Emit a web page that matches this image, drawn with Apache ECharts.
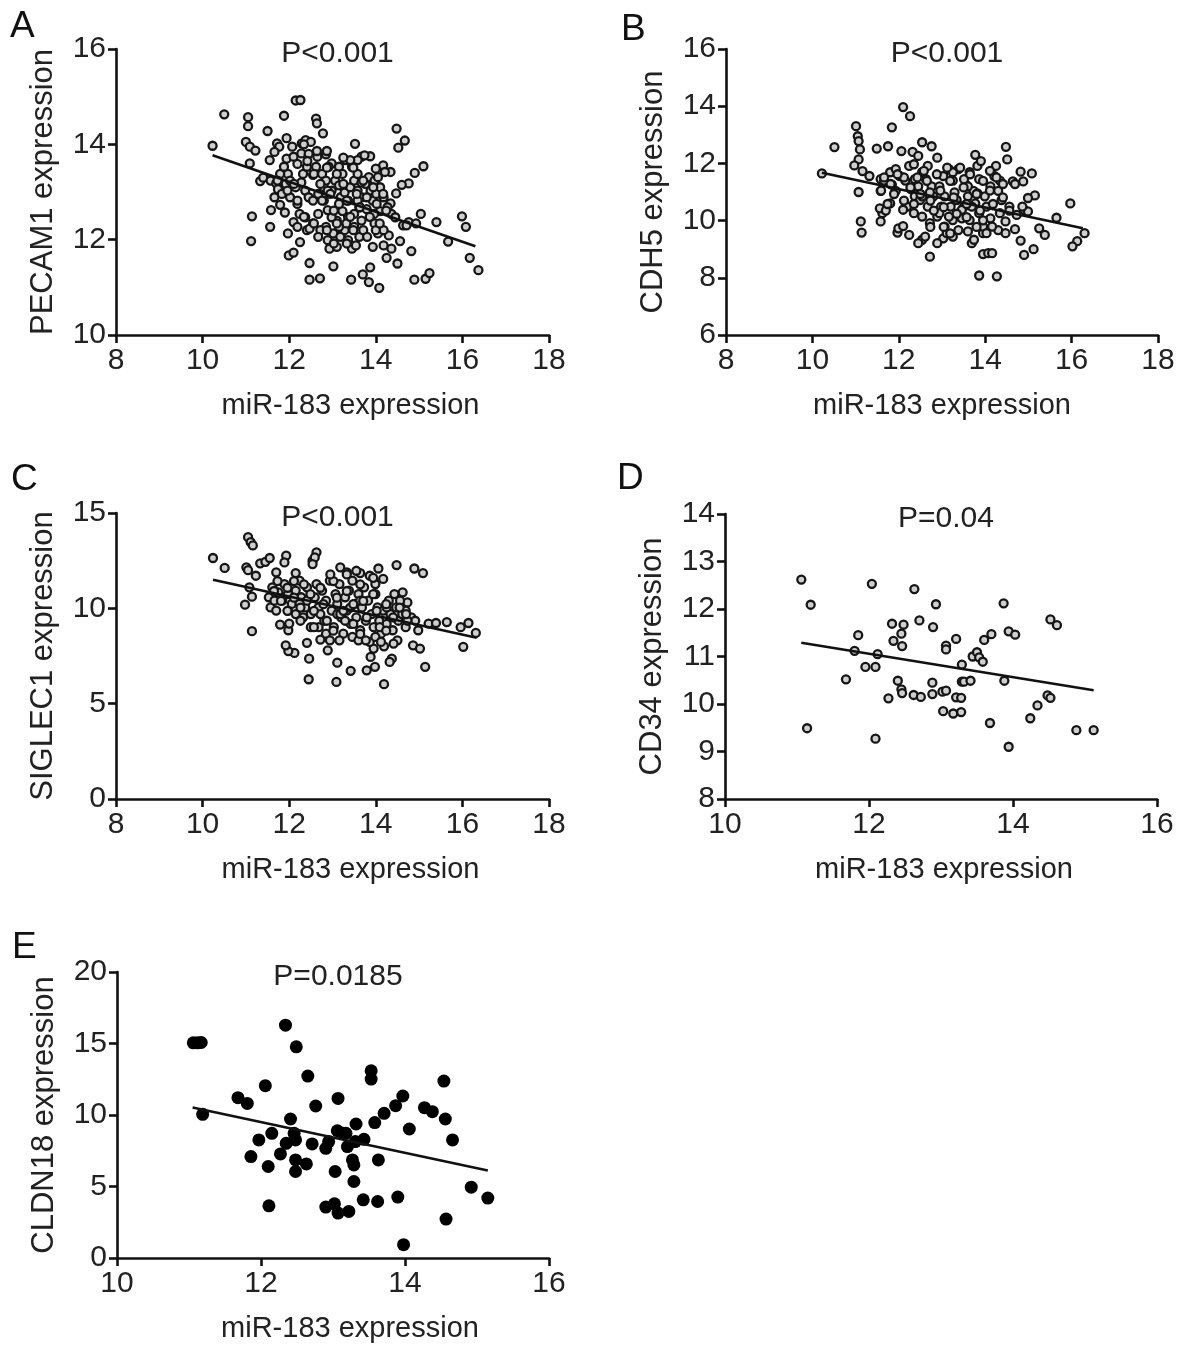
<!DOCTYPE html>
<html>
<head>
<meta charset="utf-8">
<script src="https://cdn.jsdelivr.net/npm/echarts@6/dist/echarts.min.js"></script>
<style>
html,body{margin:0;padding:0;background:#fff;}
#chart{width:1181px;height:1351px;}
</style>
</head>
<body>
<div id="chart"></div>
<script>
// ---------- DATA ----------
const panelLetters = ['A','B','C','D','E'];
const pLabels = ['P<0.001','P<0.001','P<0.001','P=0.04','P=0.0185'];
const yNames = ['PECAM1 expression','CDH5 expression','SIGLEC1 expression','CD34 expression','CLDN18 expression'];
const xName = 'miR-183 expression';

const aData = [
[10.23,13.97],[10.50,14.63],[11.05,14.57],[11.05,14.38],[11.0,14.05],[11.09,13.95],[11.22,13.87],[11.09,13.6],[11.33,13.23],[11.14,12.49],[11.12,11.97],[11.5,14.28],[11.88,14.6],[12.15,14.92],[12.26,14.93],[12.62,14.54],[12.64,14.44],[12.78,14.23],[13.52,14.01],[14.48,14.33],[14.67,14.08],[14.52,13.93],[15.1,13.54],[14.9,13.4],[15.04,12.54],[15.4,12.37],[15.67,11.96],[15.99,12.49],[16.08,12.27],[16.17,11.62],[16.37,11.36],
[11.56,12.27],[11.58,12.62],[11.79,12.73],[11.9,12.57],[11.99,11.67],[12.1,11.73],[12.25,11.95],[12.47,11.51],[12.47,11.16],[12.71,11.19],[13.02,11.44],[13.43,11.16],[13.7,11.27],[13.87,11.42],[13.84,11.11],[14.08,10.99],[14.25,11.62],[14.5,11.5],[14.82,11.76],[14.89,11.16],[15.15,11.18],[15.24,11.3],[14.56,11.97],[14.3,12.09],[14.63,12.3],[14.76,12.37],[14.93,12.34],
[14.76,13.18],[14.6,13.15],[14.47,12.97],[14.34,12.76],[14.34,13.42],[14.17,13.56],[14.21,13.42],[14.0,13.49],[13.87,13.75],[13.67,13.74],[13.74,13.77],[13.3,13.67],[12.85,13.79],[12.65,13.74],[11.94,14.13],[12.07,13.95],[12.29,14.02],[12.38,14.09],[12.5,14.05],[11.72,14.02],[11.77,13.95],[11.66,13.84],[11.55,13.67],[11.94,13.7],[11.97,13.38],[12.19,13.59],[12.1,13.74],[12.28,13.81],[12.45,13.8],[12.62,13.53],[12.55,13.36],[12.76,13.38],[12.98,13.6],[12.91,13.53],
[11.4,13.3],[11.57,13.24],[11.7,13.18],[11.74,13.06],[11.66,12.89],[11.83,12.96],[12.02,12.89],[12.19,12.75],[12.15,13.1],[12.28,13.2],[12.37,13.03],[12.45,12.89],[12.55,12.82],[12.67,12.96],[12.8,13.1],[12.8,12.82],[12.89,12.62],[12.98,13.03],[13.06,13.24],[13.15,13.14],[13.19,12.89],[13.28,12.99],[13.36,12.82],[13.41,13.1],[13.5,13.24],[13.58,13.03],[13.67,12.89],[13.76,13.17],[13.88,13.03],[13.93,12.82],[14.01,12.96],[14.1,13.1],[14.18,12.89],[14.27,12.68],[14.1,12.6],[13.96,12.54],[13.79,12.64],[13.62,12.68],[13.5,12.54],[13.36,12.47],[13.23,12.6],[13.1,12.4],[12.98,12.47],[12.85,12.27],[12.72,12.2],[12.55,12.34],[12.37,12.47],[12.24,12.54],[12.1,12.37],[11.97,12.13],[12.19,12.27],[12.41,12.2],[12.47,12.23],[12.67,12.06],[12.89,11.99],[12.93,11.81],[13.1,11.85],[13.19,12.09],[13.28,12.2],[13.36,11.99],[13.45,11.81],[13.54,11.88],[13.62,12.06],[13.71,12.2],[13.8,12.06],[13.93,11.85],[13.97,12.34],[14.05,12.13],[14.18,11.88],[14.36,11.81],[14.18,12.2],[14.0,12.2],[13.67,12.4],[13.5,12.27],[13.32,12.34],[13.15,12.27],[13.02,12.13],[12.89,13.03],[13.15,13.53],[13.23,13.38],[13.45,13.53],[13.58,13.38],[13.58,13.67],[13.41,13.67],[13.84,13.31],[13.97,13.24],[14.05,13.31],[13.67,13.2],[12.85,13.24],[12.76,12.82],[12.67,12.54],[13.15,12.75],[13.58,12.82],[14.36,12.54],[14.45,12.47],[14.71,12.3],[11.92,13.17],[11.79,13.38],[11.88,13.53],[12.32,13.38],[12.41,13.53],[12.02,13.24],
[12.42,13.65],[12.57,13.38],[12.72,13.17],[12.87,13.51],[12.95,12.96],[13.03,12.61],[13.1,12.34],[13.18,12.06],[13.25,13.17],[13.33,12.82],[13.41,12.48],[13.48,13.51],[13.56,12.96],[13.63,12.68],[13.71,13.24],[13.79,12.89],[13.94,13.1],[14.02,12.75],[14.17,12.96],[14.24,12.61],[12.11,13.17],[12.19,12.82],[11.96,13.03],[11.73,13.24],[12.34,12.48],[12.57,12.34],[12.87,12.2],[13.03,11.92],[13.33,11.92],[13.48,12.2],[12.64,13.86],[12.34,14.0],[13.25,13.72],[12.87,13.86],[13.1,13.38],[13.86,12.48],[14.09,12.34]
];
const aFit = [[10.23,13.77],[16.3,11.86]];

const bData = [
[10.22,11.65],[10.51,12.57],[11.01,13.3],[11.05,12.95],[11.07,12.78],[11.1,12.49],[11.07,12.14],[10.97,11.93],[11.16,11.73],[11.32,11.56],[11.07,11.0],[11.12,9.97],[11.14,9.58],[11.49,12.52],[11.75,12.6],[11.84,13.26],[12.1,13.97],[12.26,13.65],[12.06,12.43],[12.32,12.4],[12.54,12.74],[12.76,12.6],[12.89,12.2],[12.45,12.26],[12.67,11.91],[12.72,8.74],[13.86,8.08],[14.27,8.05],[13.95,8.83],[14.07,8.86],[14.16,8.86],[14.48,12.58],[14.51,12.14],[14.82,11.71],[15.08,11.65],[15.15,10.88],[14.99,10.79],[14.88,11.37],[15.65,10.1],[15.97,10.6],[16.3,9.56],[16.13,9.28],[16.02,9.1],[15.12,9.0],[14.9,8.8],[14.82,9.3],[15.25,9.73],[15.38,9.5],[14.69,9.7],[14.47,9.97],[14.47,9.56],[14.3,9.67],[13.95,9.56],[13.69,9.21],[13.74,9.33],[13.25,9.44],[13.03,9.38],[12.89,9.21],[12.54,9.33],[12.45,9.21],[12.61,9.44],[12.24,9.5],[11.97,9.58],[11.99,9.73],[12.1,9.81],[11.58,9.97],[11.62,10.26],[11.56,10.43],[11.7,10.35],[11.58,11.04],[11.8,10.6],[11.84,11.26],[11.93,11.04],[11.58,11.45],[11.66,11.4],[11.8,11.69],[11.93,11.8],[12.02,11.56],[12.15,11.4],[12.24,11.91],[12.28,11.1],[12.37,10.85],[12.19,10.49],[12.1,10.38],[12.35,10.26],[12.49,10.72],[12.45,11.2],[12.63,11.45],[12.76,11.2],[12.8,10.85],[12.67,10.49],[12.54,10.14],[12.72,9.91],[12.89,10.14],[12.98,10.49],[13.06,10.85],[12.94,11.2],[13.03,11.56],[13.16,11.8],[13.25,11.4],[13.29,10.99],[13.2,10.49],[13.25,10.02],[13.06,9.79],[13.38,9.67],[13.46,10.08],[13.51,10.49],[13.6,10.85],[13.55,11.26],[13.64,11.69],[13.82,11.91],[13.77,12.3],[13.9,12.08],[13.86,11.45],[13.73,11.04],[13.77,10.6],[13.86,10.26],[14.03,10.49],[13.99,10.85],[14.12,11.2],[14.21,11.56],[14.25,11.91],[14.34,11.4],[14.3,11.04],[14.38,10.72],[14.34,10.26],[14.12,10.08],[14.16,9.79],[14.56,10.49],[14.64,11.37],[14.69,11.28],[14.73,10.2],[14.9,10.38],[14.99,10.32],[14.86,10.49],[13.38,11.8],[13.51,11.45],[13.25,11.69],[13.34,10.72],[13.46,10.38],[13.64,10.02],[13.6,9.62],[13.95,9.79],[14.03,9.56],[12.54,10.85],[12.37,11.45],[12.54,11.69],[13.16,10.14],[13.11,9.56],[12.72,10.99],[12.94,10.26],[13.6,11.2],[13.69,10.49],[13.82,10.95],
[11.66,11.51],[11.81,11.28],[11.59,11.05],[11.89,10.93],[12.12,11.51],[12.27,11.16],[12.43,11.51],[12.5,10.93],[12.35,10.58],[12.65,11.39],[12.73,10.7],[12.88,11.62],[12.96,11.05],[13.04,10.47],[13.19,11.39],[13.27,10.81],[13.34,10.24],[13.5,11.16],[13.57,10.58],[13.65,11.62],[13.8,10.93],[13.88,10.35],[13.95,11.39],[14.11,11.05],[14.18,10.58],[14.26,11.51],[14.41,10.81],[13.04,9.78],[13.19,9.55],[12.73,9.78],[13.8,9.78],[13.95,10.01],[12.58,11.74],[12.12,10.7],[11.74,10.58],[13.42,11.85],[13.12,11.85],[12.81,10.35],[13.57,10.12],[14.11,11.74],[14.41,11.28],[14.56,10.35],[11.97,11.62],[12.35,11.97]
];
const bFit = [[10.22,11.67],[16.26,9.73]];

const cData = [
[10.24,12.64],[10.51,12.12],[11.05,13.73],[11.11,13.47],[11.16,13.3],[11.01,12.15],[11.05,12.0],[11.23,11.71],[11.08,11.1],[11.14,10.61],[10.98,10.19],[11.14,8.8],[11.33,12.36],[11.45,12.44],[11.55,12.64],[11.93,12.76],[11.89,12.41],[12.15,11.85],[11.7,11.89],[12.54,12.5],[12.63,12.94],[12.59,12.67],[12.54,12.32],[13.18,12.15],[13.33,11.89],[13.64,11.85],[14.06,12.09],[13.86,11.71],[14.17,11.54],[14.48,12.27],[14.89,12.09],[15.09,11.85],[14.62,10.84],[14.73,10.31],[14.82,9.53],[14.91,9.35],[14.98,8.85],[15.22,9.2],[15.39,9.23],[15.64,9.28],[15.96,9.01],[16.14,9.23],[16.31,8.71],[16.02,7.98],[15.14,6.93],[14.86,8.06],[15.02,7.89],[14.5,8.32],[14.41,8.15],[14.37,7.36],[14.32,7.19],[14.19,8.01],[14.19,6.02],[13.98,6.93],[13.79,6.75],[13.88,7.45],[13.95,7.89],[13.86,8.24],[13.42,6.72],[13.11,7.15],[13.09,6.14],[12.89,7.8],[12.72,8.36],[12.46,7.36],[12.45,6.28],[12.41,8.19],[12.12,7.66],[11.98,7.76],[11.92,8.06],[11.98,8.85],[11.79,9.15],[12.0,9.2],
[11.53,10.58],[11.57,10.05],[11.61,11.1],[11.75,10.84],[11.84,10.4],[11.89,11.27],[11.97,10.75],[12.06,10.23],[12.15,10.93],[12.24,11.45],[12.28,10.58],[12.37,10.05],[12.41,11.1],[12.5,9.7],[12.59,10.58],[12.63,11.27],[12.68,10.05],[12.76,10.93],[12.81,9.35],[12.85,10.4],[12.94,11.45],[12.98,9.88],[13.03,9.01],[13.07,10.75],[13.11,10.23],[13.16,11.27],[13.2,9.53],[13.25,8.67],[13.29,10.58],[13.33,9.88],[13.38,10.93],[13.42,9.18],[13.46,11.45],[13.51,10.23],[13.55,9.53],[13.6,10.75],[13.64,8.85],[13.68,10.05],[13.73,11.1],[13.77,9.35],[13.82,10.4],[13.9,9.7],[13.95,9.01],[13.99,10.75],[14.04,10.05],[14.08,9.35],[14.12,8.67],[14.17,9.88],[14.25,9.18],[14.3,10.4],[14.34,9.7],[14.39,8.85],[14.47,10.05],[14.52,9.35],[14.61,9.7],[14.69,9.01],[14.43,10.75],[12.85,8.67],[12.68,9.01],[12.5,9.01],[12.32,9.53],[12.15,9.7],[11.97,9.88],[12.94,8.32],[13.16,8.32],[13.46,8.5],[13.6,8.32],[13.99,8.5],[14.12,8.24],[13.77,8.32],[11.66,10.4],[11.7,9.88],[13.55,11.97],[13.99,11.27],[13.64,10.4],[13.11,9.7],[12.72,9.7],[12.41,10.4],[12.24,10.23],[13.29,9.35],[14.25,10.05],[14.56,10.4],[14.69,9.88],[14.73,9.35],
[11.65,10.91],[11.81,10.39],[11.96,11.08],[12.11,10.56],[12.26,10.04],[12.34,11.26],[12.49,10.74],[12.57,9.87],[12.72,11.08],[12.79,10.22],[12.87,9.35],[13.02,11.43],[13.1,10.56],[13.18,9.7],[13.33,10.91],[13.41,10.04],[13.48,9.18],[13.64,11.26],[13.71,10.39],[13.79,9.53],[13.94,10.74],[14.02,9.87],[14.09,9.01],[14.24,10.22],[14.4,9.53],[14.55,10.04],[14.7,9.7],[13.33,11.78],[12.95,11.78],[12.11,11.43],[11.73,11.43],[13.02,8.83],[13.64,8.66],[14.24,8.83],[12.57,9.01],[12.26,9.35],[11.96,9.87],[13.94,11.6],[13.48,10.22],[13.25,9.87]
];
const cFit = [[10.24,11.5],[16.33,8.46]];

const dData = [
[11.06,12.62],[11.14,9.49],[11.19,12.09],[11.68,10.52],[11.8,11.12],[11.85,11.45],[11.95,10.78],[12.09,10.78],[12.04,12.53],[12.09,9.27],[12.12,11.05],[12.27,10.12],[12.32,11.69],[12.34,11.33],[12.4,10.49],[12.45,11.48],[12.48,11.67],[12.46,11.22],[12.45,10.31],[12.46,10.23],[12.62,10.19],[12.63,12.42],[12.7,11.76],[12.72,10.15],[12.88,10.45],[12.89,11.62],[12.88,10.21],[12.93,12.1],[13.03,9.85],[13.02,10.26],[13.07,10.28],[13.07,11.23],[13.07,11.15],[13.21,11.37],[13.17,9.8],[13.21,10.14],[13.28,10.13],[13.28,9.83],[13.29,10.83],[13.29,10.47],[13.32,10.47],[13.41,10.49],[13.44,11.0],[13.5,11.09],[13.53,10.98],[13.58,10.89],[13.6,11.35],[13.7,11.47],[13.68,9.6],[13.87,12.12],[13.88,10.49],[13.94,11.53],[14.03,11.46],[13.94,9.1],[14.24,9.7],[14.34,9.97],[14.48,10.18],[14.52,10.13],[14.52,11.78],[14.61,11.66],[14.88,9.45],[15.12,9.45]
];
const dFit = [[11.06,11.29],[15.12,10.29]];

const eData = [
[11.06,15.05],[11.12,15.05],[11.17,15.07],[11.19,10.05],[11.68,11.21],[11.81,10.81],[11.86,7.09],[11.97,8.26],[12.06,12.05],[12.1,6.4],[12.11,3.65],[12.15,8.72],[12.27,7.28],[12.35,8.02],[12.34,16.28],[12.41,9.72],[12.46,8.72],[12.48,8.26],[12.48,6.86],[12.48,6.05],[12.49,14.77],[12.63,6.58],[12.65,12.72],[12.71,7.98],[12.76,10.63],[12.9,7.67],[12.9,3.56],[12.94,8.14],[13.02,3.79],[13.07,3.14],[13.03,6.05],[13.07,11.16],[13.06,8.9],[13.14,8.72],[13.18,8.72],[13.22,3.26],[13.2,7.79],[13.27,6.86],[13.29,6.51],[13.29,5.35],[13.32,9.37],[13.31,8.14],[13.43,8.3],[13.42,4.07],[13.53,13.09],[13.53,12.51],[13.58,9.47],[13.63,6.86],[13.62,3.95],[13.71,10.12],[13.87,10.65],[13.9,4.26],[13.97,11.33],[13.98,0.93],[14.06,9.02],[14.27,10.51],[14.38,10.23],[14.54,12.37],[14.56,9.72],[14.57,2.72],[14.66,8.26],[14.92,4.95],[15.15,4.19]
];
const eFit = [[11.05,10.53],[15.15,6.12]];

const xRanges = [[8,18,2],[8,18,2],[8,18,2],[10,16,2],[10,16,2]];
const yRanges = [[10,16,2],[6,16,2],[0,15,5],[8,14,1],[0,20,5]];

// ---------- LAYOUT ----------
const FONT = 'Liberation Sans, Arial, Helvetica, sans-serif';
const grids = [
  {left:116, top:49,  width:433, height:286},
  {left:726, top:49,  width:432, height:286},
  {left:116, top:513, width:433, height:286},
  {left:725, top:514, width:432, height:285},
  {left:117, top:972, width:432, height:286}
];
const letterPos = [[5,3],[616,6],[6,456],[612,455],[7,924]];
const xNameShift = [36,0,36,6,34];
const allData = [aData,bData,cData,dData,eData];
const allFit = [aFit,bFit,cFit,dFit,eFit];

const axisCommon = {
  axisLine:{show:true,onZero:false,lineStyle:{color:'#111',width:2.6}},
  axisTick:{show:true,inside:false,length:8,lineStyle:{color:'#111',width:2.6}},
  splitLine:{show:false}
};

const xAxes = [], yAxes = [], series = [], titles = [];
for (let i=0;i<5;i++){
  xAxes.push(Object.assign({}, axisCommon, {
    type:'value', gridIndex:i, min:xRanges[i][0], max:xRanges[i][1], interval:xRanges[i][2],
    name:xName, nameLocation:'middle', nameGap:56,
    nameTextStyle:{color:'#222',fontSize:29,fontFamily:FONT,padding:[0,0,0,xNameShift[i]]},
    axisLabel:{color:'#222',fontSize:30,fontFamily:FONT,margin:11}
  }));
  yAxes.push(Object.assign({}, axisCommon, {
    type:'value', gridIndex:i, min:yRanges[i][0], max:yRanges[i][1], interval:yRanges[i][2],
    name:yNames[i], nameLocation:'middle', nameGap:57, nameRotate:90,
    nameTextStyle:{color:'#222',fontSize:31,fontFamily:FONT},
    axisLabel:{color:'#222',fontSize:30,fontFamily:FONT,margin:10}
  }));
  const filled = (i===4);
  series.push({
    type:'scatter', xAxisIndex:i, yAxisIndex:i, data:allData[i],
    symbol:'circle', symbolSize: filled ? 13 : 8,
    itemStyle: filled ? {color:'#000',opacity:1} : {color:'#cfcfcf', borderColor:'#151515', borderWidth:2.3, opacity:1},
    z:2
  });
  series.push({
    type:'line', xAxisIndex:i, yAxisIndex:i, data:allFit[i],
    symbol:'none', lineStyle:{color:'#111',width:2.6}, z:3, silent:true
  });
  titles.push({
    text:pLabels[i], left:grids[i].left + grids[i].width/2, top:grids[i].top - 15,
    textAlign:'center',
    textStyle:{color:'#222',fontSize:30,fontWeight:'normal',fontFamily:FONT}
  });
  titles.push({
    text:panelLetters[i], left:letterPos[i][0], top:letterPos[i][1],
    textStyle:{color:'#111',fontSize:37,fontWeight:'normal',fontFamily:FONT}
  });
}

const chart = echarts.init(document.getElementById('chart'), null, {renderer:'canvas'});
chart.setOption({
  animation:false,
  backgroundColor:'#fff',
  title:titles,
  grid:grids,
  xAxis:xAxes,
  yAxis:yAxes,
  series:series
});
</script>
</body>
</html>
